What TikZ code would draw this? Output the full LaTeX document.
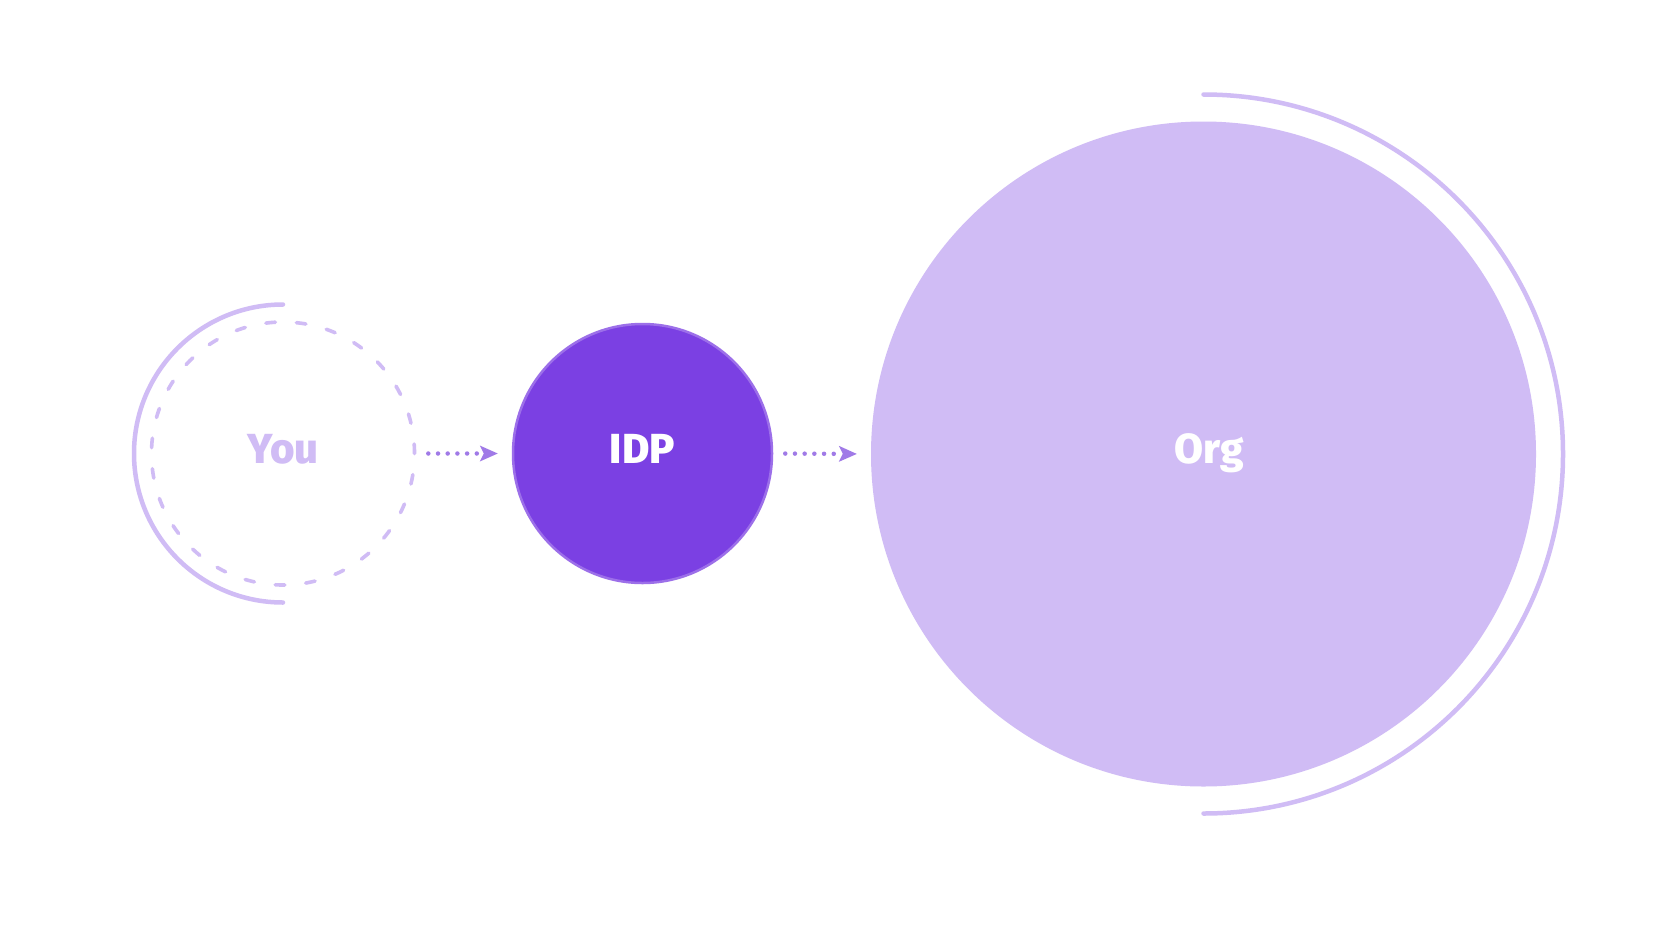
\documentclass[tikz,border=0pt]{standalone}
\usepackage{fontspec}
\setmainfont{Fira Sans}[BoldFont={Fira Sans ExtraBold}]
\usetikzlibrary{arrows.meta}
\definecolor{lightp}{HTML}{D0BCF5}
\definecolor{deepp}{HTML}{7B40E3}
\definecolor{ringp}{HTML}{9C6FE9}
\definecolor{arrowp}{HTML}{A07AE7}
\tikzset{
  lbl/.style={font=\fontsize{42}{50}\selectfont\bfseries, text height=25pt, text depth=6pt, inner sep=0pt},
  youcircle/.style={circle, draw=lightp, line width=3.6pt, dash pattern=on 9.5pt off 21.1pt, line cap=round, minimum size=263pt, inner sep=0pt, text=lightp},
  idpcircle/.style={circle, draw=ringp, fill=deepp, line width=2.5pt, minimum size=259pt, inner sep=0pt, text=white},
  orgcircle/.style={circle, fill=lightp, minimum size=665pt, inner sep=0pt, text=white},
  halo/.style={draw=lightp, line width=4.5pt, line cap=round},
  flow/.style={draw=arrowp, line width=4.5pt, line cap=round, dash pattern=on 0pt off 9.7pt,
    -{Stealth[length=18pt, width=16pt, inset=4pt, line width=0pt, fill=arrowp]}, shorten <=12pt, shorten >=14pt}
}
\begin{document}
\begin{tikzpicture}[x=1pt,y=1pt]
\useasboundingbox (0,0) rectangle (1680,-945);
\fill[white] (0,0) rectangle (1680,-945);
\node[youcircle, lbl] (you) at (283,-453.5) {You};
\node[idpcircle, lbl] (idp) at (642.5,-453.5) {IDP};
\node[orgcircle, lbl] (org) at (1203.5,-454) {\hspace*{12pt}Org};
\draw[halo] ([shift={(90:149)}]you.center) arc[start angle=90, end angle=270, radius=149];
\draw[halo] ([shift={(90:359.5)}]org.center) arc[start angle=90, end angle=-90, radius=359.5];
\draw[flow] (you.east) -- (idp.west);
\draw[flow] (idp.east) -- (org.west);
\end{tikzpicture}
\end{document}
